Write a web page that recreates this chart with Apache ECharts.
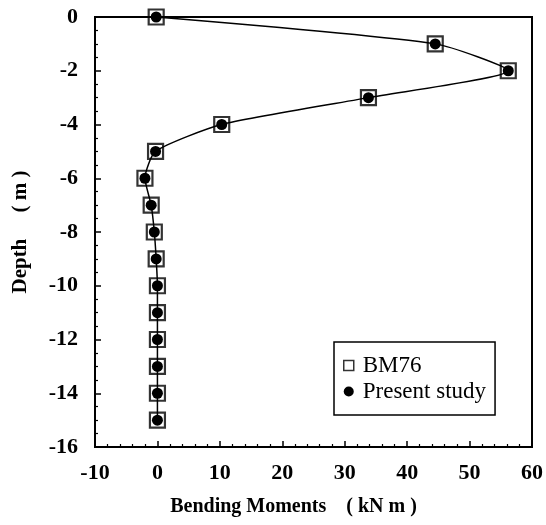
<!DOCTYPE html>
<html>
<head>
<meta charset="utf-8">
<script src="https://cdn.jsdelivr.net/npm/echarts@6/dist/echarts.min.js"></script>
<style>
  html, body { margin: 0; padding: 0; background: #fff; }
  #chart { width: 546px; height: 525px; }
</style>
</head>
<body>
<div id="chart"></div>
<script>
// Bending moment profile along the pile depth
const depths = [0, -1, -2, -3, -4, -5, -6, -7, -8, -9, -10, -11, -12, -13, -14, -15];
const bm76 = [-0.2, 44.5, 56.2, 33.8, 10.3, -0.3, -2.0, -1.0, -0.5, -0.2, 0, 0, 0, 0, 0, 0];
const present = [-0.2, 44.5, 56.2, 33.8, 10.3, -0.3, -2.0, -1.0, -0.5, -0.2, 0, 0, 0, 0, 0, 0];
const xTicks = { min: -10, max: 60, step: 10 };
const yTicks = { min: -16, max: 0, step: 2 };

const serif = '"Liberation Serif", "DejaVu Serif", serif';
const pairs = (vals) => vals.map((v, i) => [v, depths[i]]);

const chart = echarts.init(document.getElementById('chart'), null, { renderer: 'canvas' });
chart.setOption({
  backgroundColor: '#fff',
  animation: false,
  grid: {
    left: 95, right: 14, top: 17, bottom: 78,
    show: true, borderColor: '#000', borderWidth: 2, backgroundColor: 'transparent'
  },
  xAxis: {
    type: 'value',
    min: xTicks.min, max: xTicks.max, interval: xTicks.step,
    name: 'Bending Moments    ( kN m )',
    nameLocation: 'middle', nameGap: 50,
    nameTextStyle: {
      fontFamily: serif, fontSize: 20, fontWeight: 'bold', color: '#000',
      padding: [0, 40, 0, 0]
    },
    axisLine: { show: true, onZero: false, lineStyle: { color: '#000', width: 2 } },
    axisTick: { show: true, inside: true, length: 6, lineStyle: { color: '#000', width: 1.5 } },
    minorTick: { show: true, splitNumber: 5, length: 3, lineStyle: { color: '#000', width: 1.2 } },
    axisLabel: { fontFamily: serif, fontSize: 22, fontWeight: 'bold', color: '#000', margin: 15 },
    splitLine: { show: false }
  },
  yAxis: {
    type: 'value',
    min: yTicks.min, max: yTicks.max, interval: yTicks.step,
    name: 'Depth     ( m )',
    nameLocation: 'middle', nameGap: 64,
    nameTextStyle: { fontFamily: serif, fontSize: 21, fontWeight: 'bold', color: '#000' },
    axisLine: { show: true, onZero: false, lineStyle: { color: '#000', width: 2 } },
    axisTick: { show: true, inside: true, length: 6, lineStyle: { color: '#000', width: 1.5 } },
    minorTick: { show: true, splitNumber: 4, length: 3, lineStyle: { color: '#000', width: 1.2 } },
    axisLabel: { fontFamily: serif, fontSize: 22, fontWeight: 'bold', color: '#000', margin: 17 },
    splitLine: { show: false }
  },
  legend: {
    orient: 'vertical',
    left: 334, top: 342,
    padding: [12, 9, 12, 9],
    itemGap: 3,
    itemWidth: 10, itemHeight: 10,
    borderColor: '#000', borderWidth: 1.5, borderRadius: 0,
    backgroundColor: '#fff',
    textStyle: { fontFamily: serif, fontSize: 23, color: '#000', padding: [0, 0, 0, 4] },
    data: [
      { name: 'BM76', icon: 'rect', itemStyle: { color: '#fff', borderColor: '#000', borderWidth: 1.5 } },
      { name: 'Present study', icon: 'circle', itemStyle: { color: '#000' } }
    ]
  },
  series: [
    {
      name: 'BM76',
      type: 'scatter',
      data: pairs(bm76),
      symbol: 'rect',
      symbolSize: 15,
      itemStyle: { color: 'rgba(255,255,255,0)', borderColor: '#000', borderWidth: 2.2 },
      z: 2
    },
    {
      name: 'Present study',
      type: 'line',
      data: pairs(present),
      smooth: 0.2,
      symbol: 'circle',
      symbolSize: 11,
      showSymbol: true,
      lineStyle: { color: '#000', width: 1.5 },
      itemStyle: { color: '#000' },
      z: 3
    }
  ]
});
</script>
</body>
</html>
